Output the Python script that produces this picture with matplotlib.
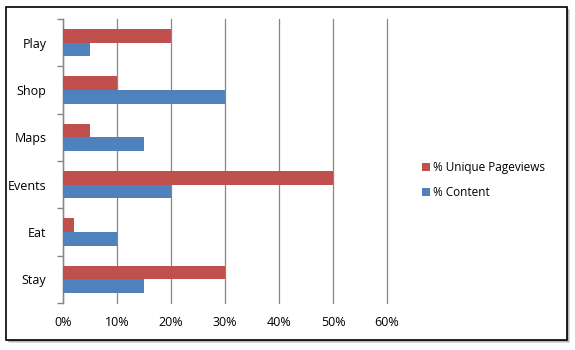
import matplotlib.pyplot as plt
import numpy as np
from matplotlib.patches import Rectangle
from matplotlib.ticker import PercentFormatter

# Data (bottom to top)
categories = ["Stay", "Eat", "Events", "Maps", "Shop", "Play"]
unique_pageviews = [30, 2, 50, 5, 10, 20]
content = [15, 10, 20, 15, 30, 5]
x_ticks = [0, 10, 20, 30, 40, 50, 60]

RED = "#C0504D"
BLUE = "#4F81BD"
GRID = "#868686"

plt.rcParams['font.family'] = ['Open Sans', 'DejaVu Sans']

fig = plt.figure(figsize=(5.75, 3.5), dpi=100)

# Outer frame with a soft shadow
for i, c in enumerate(["#d8d8d8", "#b8b8b8", "#8a8a8a"]):
    off = (3 - i) / 575
    offy = (3 - i) / 350
    fig.patches.append(Rectangle((6 / 575 + off, 10 / 350 - offy), 561 / 575, 333 / 350,
                                 transform=fig.transFigure, facecolor=c,
                                 edgecolor="none", zorder=0))
fig.patches.append(Rectangle((6 / 575, 10 / 350), 561 / 575, 333 / 350,
                             transform=fig.transFigure, facecolor="white",
                             edgecolor="black", linewidth=1.2, zorder=1))

ax = fig.add_axes([63 / 575, 47 / 350, 324 / 575, 284 / 350])
ax.set_facecolor("none")
ax.set_zorder(2)

y = np.arange(len(categories))
h = 0.29
ax.barh(y + h / 2, unique_pageviews, height=h, color=RED, label="% Unique Pageviews", zorder=3)
ax.barh(y - h / 2, content, height=h, color=BLUE, label="% Content", zorder=3)

ax.set_xlim(0, 60)
ax.set_ylim(-0.5, len(categories) - 0.5)
ax.set_xticks(x_ticks)
ax.xaxis.set_major_formatter(PercentFormatter(decimals=0))
ax.set_yticks(y)
ax.set_yticklabels(categories)
ax.set_yticks(np.arange(-0.5, len(categories), 1), minor=True)

ax.tick_params(axis="y", which="major", length=0, pad=12, labelsize=9)
ax.tick_params(axis="y", which="minor", length=4, color=GRID, width=1)
ax.tick_params(axis="x", length=0, pad=9, labelsize=9)

ax.grid(axis="x", color=GRID, linewidth=0.9, zorder=0)
for line in ax.get_xgridlines():
    line.set_clip_on(False)
for s in ["top", "right", "bottom"]:
    ax.spines[s].set_visible(False)
ax.spines["left"].set_color(GRID)
ax.spines["left"].set_linewidth(1)

ax.legend(loc="center left", bbox_to_anchor=(411 / 575, 170 / 350),
          bbox_transform=fig.transFigure, frameon=False, fontsize=8.5,
          handlelength=0.7, handleheight=0.7, handletextpad=0.3, labelspacing=1.0)

fig.savefig("out.png", dpi=100)
